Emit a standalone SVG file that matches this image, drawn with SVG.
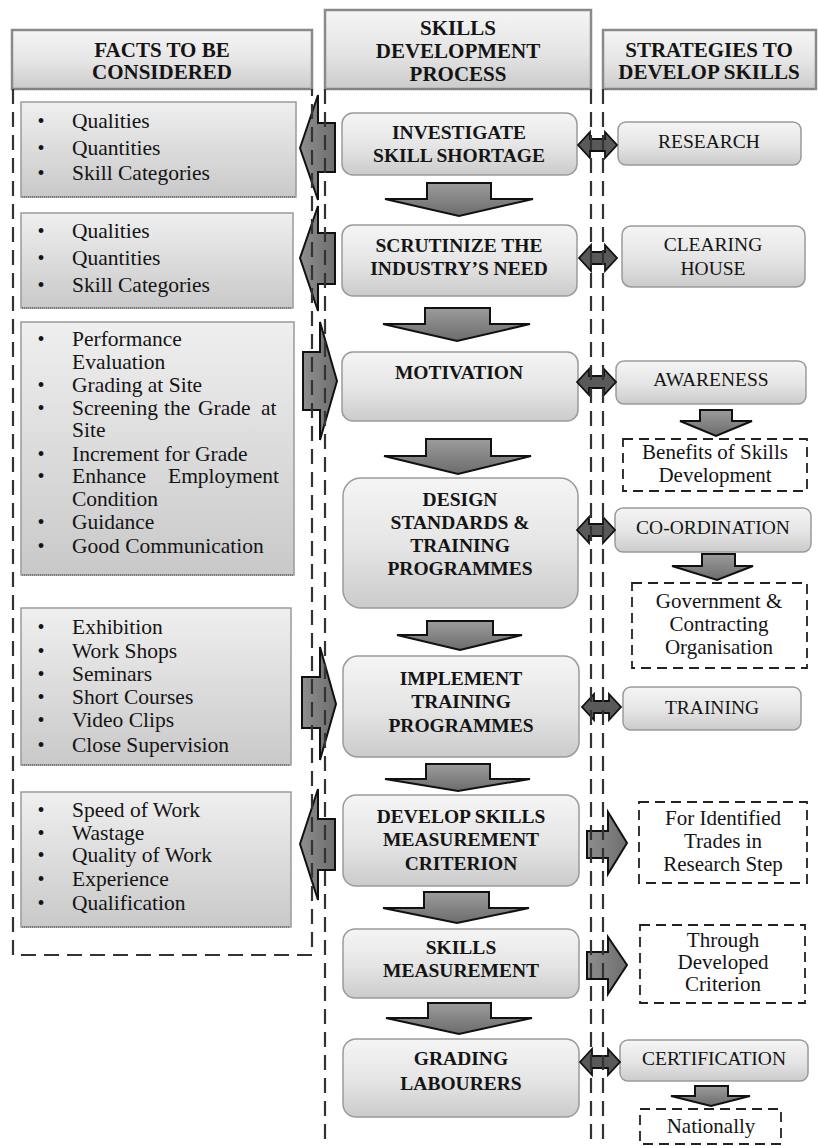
<svg xmlns="http://www.w3.org/2000/svg" width="818" height="1146" viewBox="0 0 818 1146">
  <defs>
    <linearGradient id="gBox" x1="0" y1="0" x2="0" y2="1">
      <stop offset="0" stop-color="#f5f5f5"/>
      <stop offset="0.55" stop-color="#e4e4e4"/>
      <stop offset="1" stop-color="#cbcbcb"/>
    </linearGradient>
    <linearGradient id="gList" x1="0" y1="0" x2="0" y2="1">
      <stop offset="0" stop-color="#efefef"/>
      <stop offset="1" stop-color="#c9c9c9"/>
    </linearGradient>
    <linearGradient id="gArrow" x1="0" y1="0" x2="0" y2="1">
      <stop offset="0" stop-color="#9c9c9c"/>
      <stop offset="1" stop-color="#6c6c6c"/>
    </linearGradient>
    <linearGradient id="gArrowH" x1="0" y1="0" x2="1" y2="0">
      <stop offset="0" stop-color="#8e8e8e"/>
      <stop offset="1" stop-color="#6e6e6e"/>
    </linearGradient>
    <style>
      text { font-family: "Liberation Serif", "Times New Roman", serif; fill: #141414; }
      .hdr { font-size: 21px; font-weight: bold; text-anchor: middle; }
      .node { font-size: 19.5px; font-weight: bold; text-anchor: middle; }
      .strat { font-size: 19.5px; text-anchor: middle; }
      .note { font-size: 21px; text-anchor: middle; }
      .li { font-size: 21.5px; }
      .bul { font-size: 20px; text-anchor: middle; }
      .hbox { fill: url(#gBox); stroke: #8a8a8a; stroke-width: 2.5; }
      .nbox { fill: url(#gBox); stroke: #9a9a9a; stroke-width: 1.5; }
      .lbox { fill: url(#gList); stroke: #9a9a9a; stroke-width: 1.5; }
      .shadow { stroke: #7a7a7a; stroke-width: 2; stroke-dasharray: 1 1; fill: none; }
      .cont { fill: none; stroke: #333; stroke-width: 2.2; stroke-dasharray: 15 8; }
      .dbox { fill: #fff; stroke: #222; stroke-width: 1.8; stroke-dasharray: 10 6; }
      .down { fill: url(#gArrow); stroke: #111; stroke-width: 2; stroke-linejoin: miter; }
      .big { fill: url(#gArrowH); stroke: #111; stroke-width: 2; stroke-linejoin: miter; }
      .dbl { fill: #595959; stroke: #111; stroke-width: 1.8; }
    </style>
  </defs>

  <rect width="818" height="1146" fill="#fff"/>

  <!-- column headers -->
  <g id="header-facts">
    <rect class="hbox" x="12" y="30" width="300" height="59"/>
    <line class="shadow" x1="14" y1="89" x2="310" y2="89"/>
    <text class="hdr" x="162" y="57">FACTS TO BE</text>
    <text class="hdr" x="162" y="79">CONSIDERED</text>
  </g>
  <g id="header-process">
    <rect class="hbox" x="325" y="10" width="266" height="79"/>
    <line class="shadow" x1="327" y1="89" x2="589" y2="89"/>
    <text class="hdr" x="458" y="35">SKILLS</text>
    <text class="hdr" x="458" y="58">DEVELOPMENT</text>
    <text class="hdr" x="458" y="81">PROCESS</text>
  </g>
  <g id="header-strategies">
    <rect class="hbox" x="603" y="30" width="213" height="59"/>
    <line class="shadow" x1="605" y1="89" x2="814" y2="89"/>
    <text class="hdr" x="709" y="57">STRATEGIES TO</text>
    <text class="hdr" x="709" y="79">DEVELOP SKILLS</text>
  </g>

  <!-- facts lists -->
  <g id="facts-1">
    <rect class="lbox" x="21" y="102" width="275" height="95"/>
    <line class="shadow" x1="22" y1="197" x2="295" y2="197"/>
    <text class="bul" x="41" y="128">•</text><text class="li" x="72" y="128">Qualities</text>
    <text class="bul" x="41" y="155">•</text><text class="li" x="72" y="155">Quantities</text>
    <text class="bul" x="41" y="180">•</text><text class="li" x="72" y="180">Skill Categories</text>
  </g>
  <g id="facts-2">
    <rect class="lbox" x="21" y="213" width="272" height="95"/>
    <line class="shadow" x1="22" y1="308" x2="292" y2="308"/>
    <text class="bul" x="41" y="238">•</text><text class="li" x="72" y="238">Qualities</text>
    <text class="bul" x="41" y="265">•</text><text class="li" x="72" y="265">Quantities</text>
    <text class="bul" x="41" y="292">•</text><text class="li" x="72" y="292">Skill Categories</text>
  </g>
  <g id="facts-3">
    <rect class="lbox" x="21" y="322" width="273" height="253"/>
    <line class="shadow" x1="22" y1="575" x2="293" y2="575"/>
    <text class="bul" x="41" y="346">•</text><text class="li" x="72" y="346">Performance</text>
    <text class="li" x="72" y="369">Evaluation</text>
    <text class="bul" x="41" y="392">•</text><text class="li" x="72" y="392">Grading at Site</text>
    <text class="bul" x="41" y="415">•</text>
    <text class="li" y="415"><tspan x="72">Screening</tspan><tspan x="164">the</tspan><tspan x="198">Grade</tspan><tspan x="261">at</tspan></text>
    <text class="li" x="72" y="437">Site</text>
    <text class="bul" x="41" y="461">•</text><text class="li" x="72" y="461">Increment for Grade</text>
    <text class="bul" x="41" y="483">•</text>
    <text class="li" y="483"><tspan x="72">Enhance</tspan><tspan x="168">Employment</tspan></text>
    <text class="li" x="72" y="506">Condition</text>
    <text class="bul" x="41" y="529">•</text><text class="li" x="72" y="529">Guidance</text>
    <text class="bul" x="41" y="553">•</text><text class="li" x="72" y="553">Good Communication</text>
  </g>
  <g id="facts-4">
    <rect class="lbox" x="21" y="608" width="270" height="157"/>
    <line class="shadow" x1="22" y1="765" x2="290" y2="765"/>
    <text class="bul" x="41" y="634">•</text><text class="li" x="72" y="634">Exhibition</text>
    <text class="bul" x="41" y="658">•</text><text class="li" x="72" y="658">Work Shops</text>
    <text class="bul" x="41" y="681">•</text><text class="li" x="72" y="681">Seminars</text>
    <text class="bul" x="41" y="704">•</text><text class="li" x="72" y="704">Short Courses</text>
    <text class="bul" x="41" y="727">•</text><text class="li" x="72" y="727">Video Clips</text>
    <text class="bul" x="41" y="752">•</text><text class="li" x="72" y="752">Close Supervision</text>
  </g>
  <g id="facts-5">
    <rect class="lbox" x="21" y="792" width="270" height="135"/>
    <line class="shadow" x1="22" y1="927" x2="290" y2="927"/>
    <text class="bul" x="41" y="817">•</text><text class="li" x="72" y="817">Speed of Work</text>
    <text class="bul" x="41" y="840">•</text><text class="li" x="72" y="840">Wastage</text>
    <text class="bul" x="41" y="862">•</text><text class="li" x="72" y="862">Quality of Work</text>
    <text class="bul" x="41" y="886">•</text><text class="li" x="72" y="886">Experience</text>
    <text class="bul" x="41" y="910">•</text><text class="li" x="72" y="910">Qualification</text>
  </g>

  <!-- process steps -->
  <g id="step-investigate">
    <rect class="nbox" x="342" y="113" width="235" height="62" rx="11"/>
    <text class="node" x="459" y="139">INVESTIGATE</text>
    <text class="node" x="459" y="162">SKILL SHORTAGE</text>
  </g>
  <g id="step-scrutinize">
    <rect class="nbox" x="342" y="225" width="235" height="71" rx="11"/>
    <text class="node" x="459" y="252">SCRUTINIZE THE</text>
    <text class="node" x="459" y="275">INDUSTRY’S NEED</text>
  </g>
  <g id="step-motivation">
    <rect class="nbox" x="342" y="352" width="236" height="69" rx="11"/>
    <text class="node" x="459" y="379">MOTIVATION</text>
  </g>
  <g id="step-design">
    <rect class="nbox" x="343" y="478" width="235" height="130" rx="18"/>
    <text class="node" x="460" y="506">DESIGN</text>
    <text class="node" x="460" y="529">STANDARDS &amp;</text>
    <text class="node" x="460" y="552">TRAINING</text>
    <text class="node" x="460" y="575">PROGRAMMES</text>
  </g>
  <g id="step-implement">
    <rect class="nbox" x="343" y="656" width="236" height="101" rx="15"/>
    <text class="node" x="461" y="685">IMPLEMENT</text>
    <text class="node" x="461" y="708">TRAINING</text>
    <text class="node" x="461" y="732">PROGRAMMES</text>
  </g>
  <g id="step-criterion">
    <rect class="nbox" x="343" y="795" width="236" height="91" rx="13"/>
    <text class="node" x="461" y="823">DEVELOP SKILLS</text>
    <text class="node" x="461" y="846">MEASUREMENT</text>
    <text class="node" x="461" y="870">CRITERION</text>
  </g>
  <g id="step-measurement">
    <rect class="nbox" x="343" y="929" width="236" height="69" rx="12"/>
    <text class="node" x="461" y="954">SKILLS</text>
    <text class="node" x="461" y="977">MEASUREMENT</text>
  </g>
  <g id="step-grading">
    <rect class="nbox" x="343" y="1039" width="236" height="78" rx="13"/>
    <text class="node" x="461" y="1065">GRADING</text>
    <text class="node" x="461" y="1090">LABOURERS</text>
  </g>

  <!-- strategies -->
  <g id="strat-research">
    <rect class="nbox" x="618" y="122" width="183" height="43" rx="8"/>
    <text class="strat" x="709" y="148">RESEARCH</text>
  </g>
  <g id="strat-clearing">
    <rect class="nbox" x="622" y="226" width="183" height="61" rx="9"/>
    <text class="strat" x="713" y="251">CLEARING</text>
    <text class="strat" x="713" y="275">HOUSE</text>
  </g>
  <g id="strat-awareness">
    <rect class="nbox" x="616" y="361" width="190" height="43" rx="8"/>
    <text class="strat" x="711" y="386">AWARENESS</text>
  </g>
  <g id="note-benefits">
    <rect class="dbox" x="623" y="439" width="184" height="52"/>
    <text class="note" x="715" y="459">Benefits of Skills</text>
    <text class="note" x="715" y="482">Development</text>
  </g>
  <g id="strat-coordination">
    <rect class="nbox" x="615" y="508" width="196" height="44" rx="8"/>
    <text class="strat" x="713" y="534">CO-ORDINATION</text>
  </g>
  <g id="note-government">
    <rect class="dbox" x="632" y="583" width="175" height="85"/>
    <text class="note" x="719" y="608">Government &amp;</text>
    <text class="note" x="719" y="631">Contracting</text>
    <text class="note" x="719" y="654">Organisation</text>
  </g>
  <g id="strat-training">
    <rect class="nbox" x="623" y="687" width="178" height="43" rx="8"/>
    <text class="strat" x="712" y="714">TRAINING</text>
  </g>
  <g id="note-trades">
    <rect class="dbox" x="639" y="802" width="168" height="81"/>
    <text class="note" x="723" y="825">For Identified</text>
    <text class="note" x="723" y="848">Trades in</text>
    <text class="note" x="723" y="871">Research Step</text>
  </g>
  <g id="note-criterion">
    <rect class="dbox" x="640" y="925" width="165" height="78"/>
    <text class="note" x="723" y="947">Through</text>
    <text class="note" x="723" y="969">Developed</text>
    <text class="note" x="723" y="991">Criterion</text>
  </g>
  <g id="strat-certification">
    <rect class="nbox" x="620" y="1040" width="188" height="41" rx="8"/>
    <text class="strat" x="714" y="1065">CERTIFICATION</text>
  </g>
  <g id="note-nationally">
    <rect class="dbox" x="640" y="1109" width="141" height="35"/>
    <text class="note" x="711" y="1133">Nationally</text>
  </g>

  <!-- connectors -->
  <g id="connectors">
    <!-- flow between process steps -->
    <path class="down" d="M427,183 H491 V199 H533 L459,216 L385,199 H427 Z"/>
    <path class="down" d="M425,308 H490 V324 H530 L457,341 L383,324 H425 Z"/>
    <path class="down" d="M426,439 H491 V456 H531 L458,474 L384,456 H426 Z"/>
    <path class="down" d="M427,621 H493 V635 H522 L460,650 L397,635 H427 Z"/>
    <path class="down" d="M426,764 H490 V779 H530 L458,791 L385,779 H426 Z"/>
    <path class="down" d="M424,892 H489 V908 H529 L457,923 L383,908 H424 Z"/>
    <path class="down" d="M428,1003 H491 V1018 H532 L459,1034 L386,1018 H428 Z"/>

    <!-- steps to facts -->
    <path class="big" d="M300,148 L318,95 V123 H335 V172 H318 V200 Z"/>
    <path class="big" d="M300,258 L318,206 V233 H335 V284 H318 V311 Z"/>
    <path class="big" d="M303,352 H320 V322 L337,381 L320,440 V410 H303 Z"/>
    <path class="big" d="M302,677 H320 V647 L336,704 L320,760 V728 H302 Z"/>
    <path class="big" d="M300,844 L318,789 V819 H335 V870 H318 V900 Z"/>

    <!-- steps to strategies -->
    <path class="dbl" d="M578,145 L590,132 V139 H605 V132 L617,145 L605,158 V151 H590 V158 Z"/>
    <path class="dbl" d="M579,258 L591,245 V252 H605 V245 L617,258 L605,271 V264 H591 V271 Z"/>
    <path class="dbl" d="M577,382 L589,369 V376 H604 V369 L616,382 L604,395 V388 H589 V395 Z"/>
    <path class="dbl" d="M577,530 L589,517 V524 H603 V517 L615,530 L603,543 V536 H589 V543 Z"/>
    <path class="dbl" d="M582,707 L594,694 V701 H609 V694 L621,707 L609,720 V713 H594 V720 Z"/>
    <path class="dbl" d="M580,1062 L592,1049 V1056 H608 V1049 L620,1062 L608,1075 V1068 H592 V1075 Z"/>

    <!-- strategies to notes -->
    <path class="down" d="M700,410 H732 V421 H752 L716,436 L680,421 H700 Z"/>
    <path class="down" d="M702,554 H735 V566 H753 L717,580 L672,566 H702 Z"/>
    <path class="down" d="M695,1086 H728 V1096 H750 L711,1106 L671,1096 H695 Z"/>
    <path class="big" d="M587,831 H608 V812 L627,843 L608,874 V858 H587 Z"/>
    <path class="big" d="M587,952 H608 V937 L627,965 L608,994 V979 H587 Z"/>
  </g>

  <!-- dashed column frames -->
  <g id="column-frames">
    <path class="cont" d="M13,89 V955 H312 V89"/>
    <path class="cont" d="M325,89 V1146"/>
    <path class="cont" d="M591,89 V1146"/>
    <path class="cont" d="M603,89 V1146"/>
  </g>
</svg>
